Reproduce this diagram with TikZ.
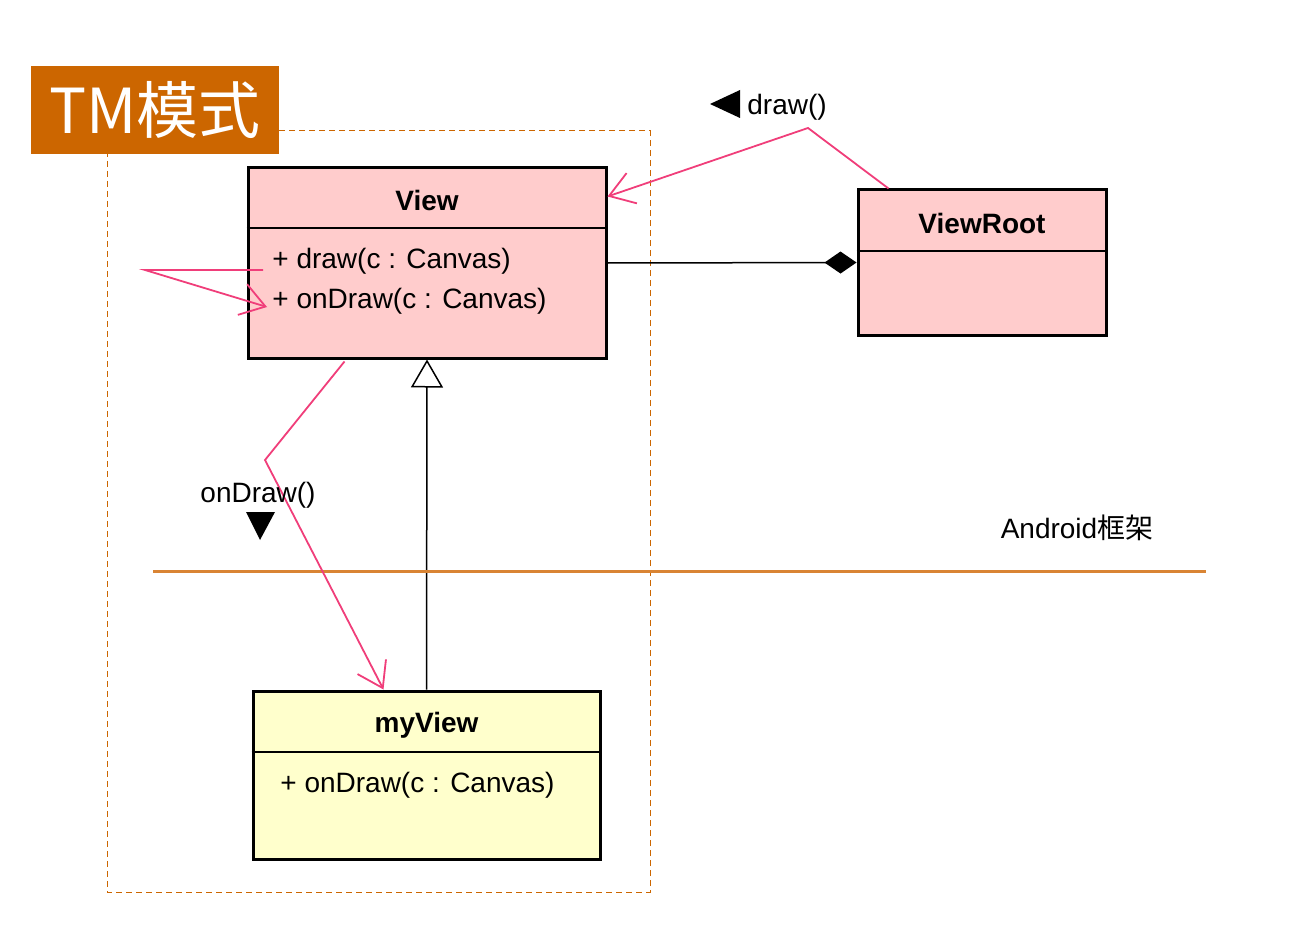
\documentclass[tikz,border=0pt]{standalone}
\usepackage{fontspec}
\setmainfont{Liberation Sans}
\newfontfamily\cjk{Noto Sans CJK SC}
\usetikzlibrary{arrows.meta,calc,positioning}

\definecolor{tmorange}{RGB}{204,102,0}
\definecolor{fwline}{RGB}{217,132,52}
\definecolor{callpink}{RGB}{240,62,122}
\definecolor{viewpink}{RGB}{255,204,204}
\definecolor{myyellow}{RGB}{255,255,204}

\tikzset{
	classbox/.style={draw=black, line width=1.5pt, inner sep=0pt},
	classname/.style={font=\bfseries\fontsize{14}{16}\selectfont, inner sep=0pt},
	member/.style={anchor=west, font=\fontsize{14}{16}\selectfont, inner sep=0pt},
	calllabel/.style={font=\fontsize{14}{16}\selectfont, inner sep=0pt},
	callarrow/.style={draw=callpink, line width=0.9pt, -{Straight Barb[length=12pt,width=16pt]}},
}

\begin{document}
\begin{tikzpicture}[x=0.5pt, y=-0.5pt]
		%%%%% START %%%%%
		\useasboundingbox (0, 0) rectangle (1304, 936);
		
		\draw[dash pattern=on 3pt off 2pt, line width=0.5pt, color=tmorange] (107, 131) rectangle (650, 892);
		\node[fill=tmorange, text=white, minimum width=124pt, minimum height=44pt, inner sep=0pt, font=\cjk\fontsize{31}{34}\selectfont] (title) at (155, 110) {TM模式};
		
		% classes
		\node[classbox, fill=viewpink, minimum width=179pt, minimum height=95pt] (view) at (427, 263) {};
		\draw[line width=0.75pt] (view.west |- 0, 228) -- (view.east |- 0, 228);
		\node[classname] (viewname) at (427, 200) {View};
		\node[member] (drawm) at (272, 261) {+ draw(c : Canvas)};
		\node[member] (ondrawm) at (272, 301) {+ onDraw(c : Canvas)};
		
		\node[classbox, fill=viewpink, minimum width=124pt, minimum height=72.5pt] (viewroot) at (982, 262.5) {};
		\draw[line width=0.75pt] (viewroot.west |- 0, 251) -- (viewroot.east |- 0, 251);
		\node[classname] (viewrootname) at (982, 223) {ViewRoot};
		
		\node[classbox, fill=myyellow, minimum width=173.5pt, minimum height=84pt] (myview) at (426.5, 775) {};
		\draw[line width=0.75pt] (myview.west |- 0, 752) -- (myview.east |- 0, 752);
		\node[classname] (myviewname) at (426.5, 725) {myView};
		\node[member] (myondrawm) at (280, 785) {+ onDraw(c : Canvas)};
		
		% relations
		\draw[line width=0.75pt, -{Diamond[length=16pt, width=11pt, fill=black]}] (view.east) -- (viewroot.west);
		\draw[line width=0.75pt, -{Triangle[open, length=14pt, width=16pt, fill=white]}] (myview.north) -- (view.south);
		
		% framework boundary
		\draw[line width=1.5pt, color=fwline] (153, 571) -- (1206, 571);
		\node[calllabel] (fwlbl) at (1077, 528) {Android{\cjk 框架}};
		
		% calls
		\coordinate (drawbend) at (808, 128);
		\draw[callarrow] ($(viewroot.north west)+(32, 0)$) -- (drawbend) -- ($(view.north east)+(0, 30)$);
		\node[calllabel, anchor=west] (drawlbl) at (747, 107) {draw()};
		\fill ($(drawlbl.west)+(-37, -3)$) -- ($(drawlbl.west)+(-7, -17)$) -- ($(drawlbl.west)+(-7, 11)$) -- cycle;
		
		\coordinate (selfturn) at (145, 270);
		\draw[callarrow] ($(drawm.west)+(-9, 9)$) -- (selfturn) -- ($(ondrawm.west)+(-5, 6)$);
		
		\coordinate (ondrawbend) at (265, 460);
		\draw[callarrow] ($(view.south west)+(98, 2)$) -- (ondrawbend) -- ($(myview.north west)+(132, 0)$);
		\node[calllabel] (ondrawlbl) at (258, 495) {onDraw()};
		\fill (246, 512) -- (275, 512) -- (260, 540) -- cycle;
		
		%%%%% END %%%%%
\end{tikzpicture}
\end{document}
